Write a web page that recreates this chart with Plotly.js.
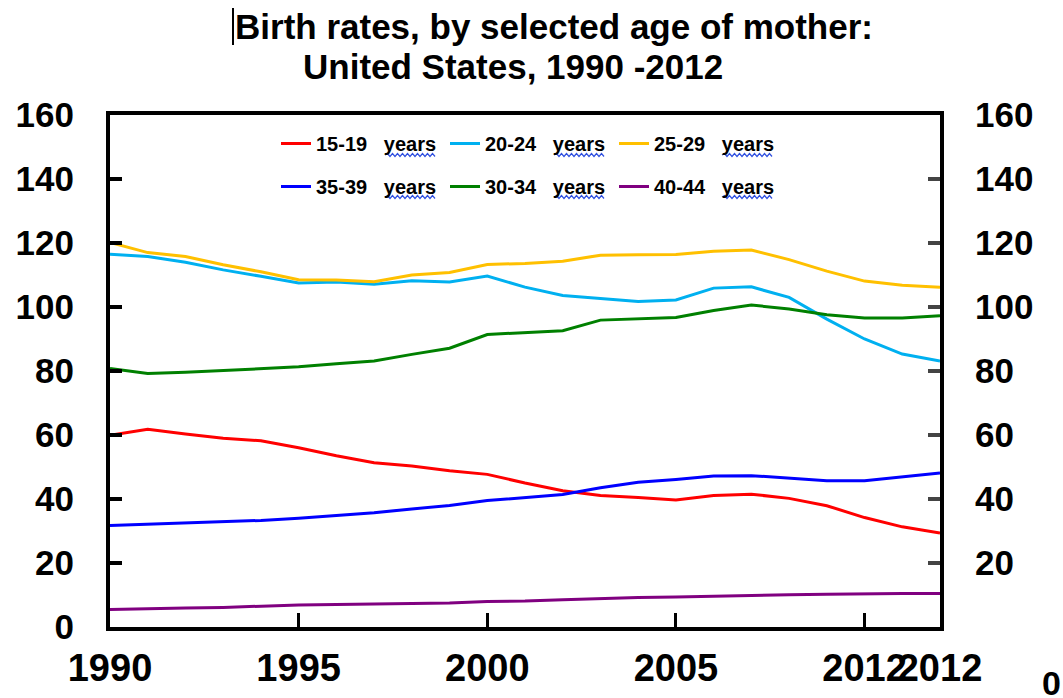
<!DOCTYPE html>
<html>
<head>
<meta charset="utf-8">
<script src="https://cdn.plot.ly/plotly-3.0.1.min.js"></script>
<style>html,body{margin:0;padding:0;background:#fff;}#chart{width:1063px;height:698px;}</style>
</head>
<body>
<div id="chart"></div>
<script>
var years = [1990,1991,1992,1993,1994,1995,1996,1997,1998,1999,2000,2001,2002,2003,2004,2005,2006,2007,2008,2009,2010,2011,2012];
var age15_19 = [59.9,61.8,60.3,59.0,58.2,56.0,53.5,51.3,50.3,48.8,47.7,45.0,42.6,41.1,40.5,39.7,41.1,41.5,40.2,37.9,34.2,31.3,29.4];
var age20_24 = [116.5,115.8,114.0,111.6,109.6,107.5,107.8,107.1,108.2,107.8,109.7,106.2,103.6,102.6,101.7,102.2,105.9,106.3,103.0,96.2,90.0,85.3,83.1];
var age25_29 = [120.2,117.0,115.8,113.2,111.0,108.5,108.4,107.9,110.0,110.8,113.3,113.6,114.3,116.2,116.3,116.4,117.4,117.8,114.8,111.2,108.1,106.8,106.2];
var age30_34 = [80.8,79.2,79.6,80.1,80.6,81.3,82.3,83.1,85.2,87.1,91.4,91.9,92.6,95.9,96.3,96.7,98.9,100.6,99.4,97.6,96.6,96.6,97.3];
var age35_39 = [31.7,32.1,32.5,32.9,33.3,34.0,34.9,35.7,36.9,38.0,39.5,40.4,41.4,43.5,45.2,46.1,47.2,47.3,46.6,45.7,45.7,46.9,48.1];
var age40_44 = [5.5,5.6,5.9,6.1,6.6,6.9,7.0,7.2,7.5,7.5,8.0,8.1,8.5,8.9,9.2,9.4,9.7,9.8,10.1,10.2,10.4,10.5,10.5];

var seriesNames = ["15-19\u00a0\u00a0 years","20-24\u00a0\u00a0 years","25-29\u00a0\u00a0 years","35-39\u00a0\u00a0 years","30-34\u00a0\u00a0 years","40-44\u00a0\u00a0 years"];
var seriesValues = [age15_19, age20_24, age25_29, age35_39, age30_34, age40_44];
var seriesColors = ["#FF0000","#00B0F0","#FFC000","#0000FF","#008000","#800080"];
var seriesLegend = ["legend","legend","legend","legend2","legend2","legend2"];
var seriesYAxis = ["y","y","y","y","y","y2"];

var xTickVals = [1990,1995,2000,2005,2010,2012];
var xTickText = ["1990","1995","2000","2005","2012","2012"];
var yTickVals = [0,20,40,60,80,100,120,140,160];
var y2TickVals = [20,40,60,80,100,120,140,160];

var FONT = "Arial, 'Liberation Sans', sans-serif";

var traces = seriesNames.map(function(n,i){
  return {x: years, y: seriesValues[i], type:'scatter', mode:'lines', name:n, yaxis: seriesYAxis[i],
    line:{color:seriesColors[i], width:3}, legend: seriesLegend[i], hoverinfo:'skip'};
});

// pixel -> paper helpers for decorations
var L=110, R=940, T=115, B=627;
function px(p){return (p-L)/(R-L);}
function py(p){return (B-p)/(B-T);}
function squiggle(x0,x1,y){
  var s='M'+px(x0)+','+py(y); var up=true;
  for(var x=x0+2.5;x<=x1;x+=2.5){ s+=' L'+px(x)+','+py(y+(up?-1.5:1.5)); up=!up; }
  return s;
}
var shapes = [
  {type:'line', xref:'paper', yref:'paper', x0:px(233), x1:px(233), y0:py(8), y1:py(45), line:{color:'#000', width:2}}
];
var sqX = [385,554,722], sqY=[155,197];
sqY.forEach(function(yy){ sqX.forEach(function(xx){
  shapes.push({type:'path', xref:'paper', yref:'paper', path:squiggle(xx,xx+52,yy), line:{color:'#3050e0', width:1.2}});
});});

var layout = {
  width:1063, height:698,
  margin:{l:L, r:1063-R, t:T, b:698-B, pad:0},
  paper_bgcolor:'#fff', plot_bgcolor:'#fff',
  font:{family:FONT, color:'#000'},
  title:{text:'Birth rates, by selected age of mother:', x:554/1063, xanchor:'center', y:1-27/698, yanchor:'middle',
    font:{family:FONT, size:35, weight:'bold', color:'#000'}},
  annotations:[
    {text:'United States, 1990 -2012', xref:'paper', yref:'paper', x:px(513), y:py(66), xanchor:'center', yanchor:'middle', showarrow:false,
     font:{family:FONT, size:35, weight:'bold', color:'#000'}},
    {text:'0', xref:'paper', yref:'paper', x:px(1040), y:py(683), xanchor:'left', yanchor:'middle', showarrow:false,
     font:{family:FONT, size:34, weight:'bold', color:'#000'}}
  ],
  shapes: shapes,
  showlegend:true,
  legend:{orientation:'h', x:px(276), y:py(124), xanchor:'left', yanchor:'top', bgcolor:'rgba(0,0,0,0)',
    entrywidth:124, entrywidthmode:'pixels', font:{family:FONT, size:20, weight:'bold', color:'#000'}, traceorder:'normal'},
  legend2:{orientation:'h', x:px(276), y:py(167), xanchor:'left', yanchor:'top', bgcolor:'rgba(0,0,0,0)',
    entrywidth:124, entrywidthmode:'pixels', font:{family:FONT, size:20, weight:'bold', color:'#000'}, traceorder:'normal'},
  xaxis:{range:[1990,2012], tickmode:'array', tickvals:xTickVals, ticktext:xTickText, tickangle:0,
    showline:true, linewidth:4, linecolor:'#000', mirror:true, showgrid:false, zeroline:false,
    ticks:'inside', ticklen:14, tickwidth:3, tickcolor:'#000', ticklabelstandoff:4,
    tickfont:{family:FONT, size:38, weight:'bold', color:'#000'}},
  yaxis:{range:[0,160], tickmode:'array', tickvals:yTickVals, showline:true, linewidth:4, linecolor:'#000',
    showgrid:false, zeroline:false, ticks:'inside', ticklen:12, tickwidth:4, tickcolor:'#000', ticklabelstandoff:25,
    tickfont:{family:FONT, size:35, weight:'bold', color:'#000'}},
  yaxis2:{range:[0,160], overlaying:'y', side:'right', tickmode:'array', tickvals:y2TickVals, showline:true, linewidth:4, linecolor:'#000',
    showgrid:false, zeroline:false, ticks:'inside', ticklen:12, tickwidth:4, tickcolor:'#444', ticklabelstandoff:24,
    tickfont:{family:FONT, size:35, weight:'bold', color:'#000'}}
};

Plotly.newPlot('chart', traces, layout, {displayModeBar:false, staticPlot:true});
</script>
</body>
</html>
